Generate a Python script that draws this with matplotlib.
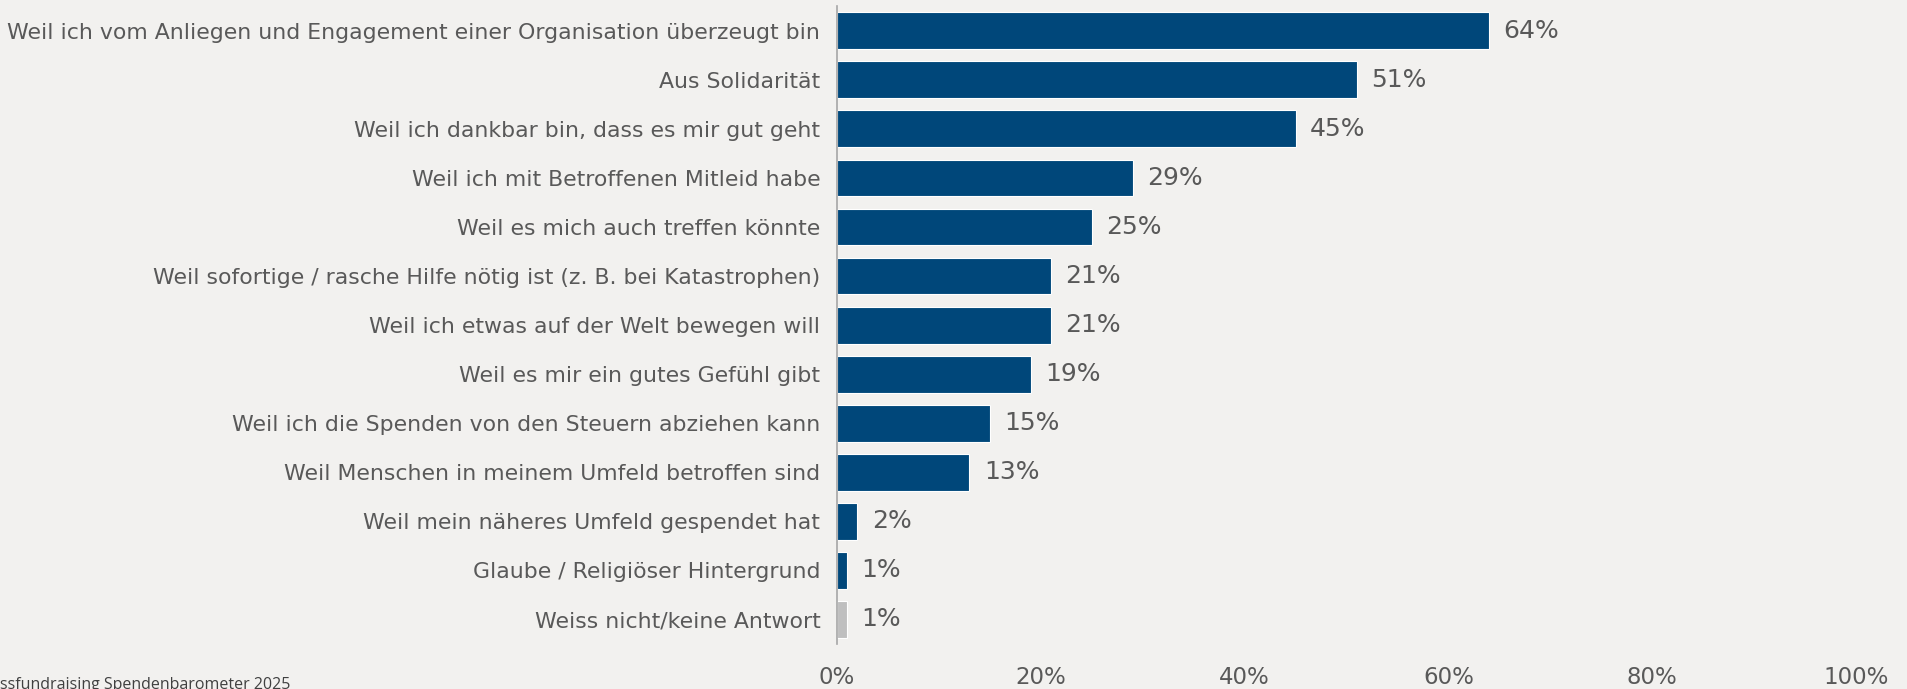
import matplotlib.pyplot as plt
from matplotlib.ticker import FuncFormatter

# answers, top to bottom
categories = [
    'Weil ich vom Anliegen und Engagement einer Organisation überzeugt bin',
    'Aus Solidarität',
    'Weil ich dankbar bin, dass es mir gut geht',
    'Weil ich mit Betroffenen Mitleid habe',
    'Weil es mich auch treffen könnte',
    'Weil sofortige / rasche Hilfe nötig ist (z. B. bei Katastrophen)',
    'Weil ich etwas auf der Welt bewegen will',
    'Weil es mir ein gutes Gefühl gibt',
    'Weil ich die Spenden von den Steuern abziehen kann',
    'Weil Menschen in meinem Umfeld betroffen sind',
    'Weil mein näheres Umfeld gespendet hat',
    'Glaube / Religiöser Hintergrund',
    'Weiss nicht/keine Antwort',
]
values = [64, 51, 45, 29, 25, 21, 21, 19, 15, 13, 2, 1, 1]
x_ticks = [0, 20, 40, 60, 80, 100]
source = 'ssfundraising Spendenbarometer 2025'

BG = '#f2f1ef'
BLUE = '#00477a'
GREY = '#bfbfbf'
TEXT = '#595959'

colors = [BLUE] * (len(values) - 1) + [GREY]

fig = plt.figure(figsize=(19.08, 6.89), dpi=100, facecolor=BG)
ax = fig.add_axes([0.4387, 0.0653, 0.534, 0.9257])
ax.set_facecolor(BG)

y = list(range(len(categories)))
ax.barh(y, values, height=0.75, color=colors, edgecolor='white', linewidth=0.8)

for yi, v in zip(y, values):
    ax.text(v + 1.4, yi, f'{v}%', va='center', ha='left', fontsize=18, color=TEXT)

ax.set_ylim(len(categories) - 0.5, -0.5)
ax.set_xlim(0, 100)
ax.set_yticks(y)
ax.set_yticklabels(categories, fontsize=15.8, color=TEXT)
ax.set_xticks(x_ticks)
ax.xaxis.set_major_formatter(FuncFormatter(lambda v, p: f'{v:.0f}%'))
ax.tick_params(axis='x', length=0, pad=16, labelsize=16.5, labelcolor=TEXT)
ax.tick_params(axis='y', length=0, pad=12)

for s in ['top', 'right', 'bottom']:
    ax.spines[s].set_visible(False)
ax.spines['left'].set_color('#a6a6a6')
ax.spines['left'].set_linewidth(1.2)

fig.text(0.0, 1 - 677 / 689, source, fontsize=11.5, color='#404040',
         family='Open Sans', ha='left', va='top')

fig.savefig('out.png', dpi=100, facecolor=BG)
